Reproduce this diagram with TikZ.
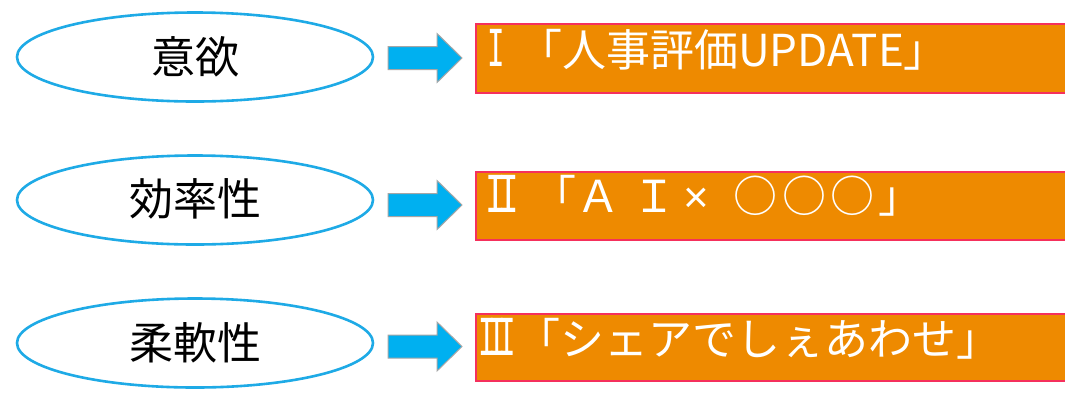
\documentclass[tikz,border=0pt]{standalone}
\usepackage{fontspec}
\usepackage{graphicx}
\newfontfamily\jp{Noto Sans CJK JP}
\newfontfamily\rom{DejaVu Sans Mono}
\newfontfamily\lat{Liberation Sans}
\usetikzlibrary{shapes.geometric}
\definecolor{ellblue}{HTML}{1EAAE6}
\definecolor{arrblue}{HTML}{00B0F0}
\definecolor{arrgray}{HTML}{A6A6A6}
\definecolor{boxorange}{HTML}{EE8A00}
\definecolor{boxborder}{HTML}{F5305C}
\newcommand{\romI}{{\rom\fontsize{51}{55}\selectfont\scalebox{0.57}[1]{I}}}
\newcommand{\romII}{{\rom\fontsize{51}{55}\selectfont\scalebox{0.67}[1]{I\kern-11pt I}}}
\newcommand{\romIII}{{\rom\fontsize{51}{55}\selectfont\scalebox{0.57}[1]{I\kern-13pt I\kern-13pt I}}}
\tikzset{
  oval/.style={ellipse, draw=ellblue, line width=2.6pt, fill=white,
    minimum width=356pt, minimum height=89pt, inner sep=0pt,
    font=\jp\fontsize{44}{50}\selectfont, text=black},
  bar/.style={draw=boxborder, line width=1.5pt, fill=boxorange},
  bartext/.style={anchor=base west, inner sep=0pt, text=white,
    font=\jp\fontsize{44}{50}\selectfont},
  blockarrow/.style={fill=arrblue, draw=arrgray, line width=1pt, line join=miter}
}
\begin{document}
\begin{tikzpicture}[x=1pt,y=-1pt]
\clip (0,0) rectangle (1065,392);
\fill[white] (0,0) rectangle (1065,392);
% rows
\foreach \n/\ey/\ay/\bt/\bb/\ty/\lab/\txt in {
  a/57/58/23/92/66/意欲/{\makebox[32pt][l]{\hspace{1pt}\romI}「人事評価UPDATE」},
  b/200/205/171/239/212/効率性/{\makebox[46pt][l]{\hspace{-1pt}\romII}「Ａ\hspace{12pt}Ｉ\hspace{7pt}{\lat ×}\hspace{25pt}○\hspace{4.5pt}○\hspace{4.5pt}○\hspace{4pt}」},
  c/343/346.5/313/380/355/柔軟性/{\makebox[30pt][l]{\hspace{-8pt}\romIII}「シェアでしぇあわせ」}}{
  \node[oval] (e\n) at (195,\ey) {\raisebox{5pt}{\lab}};
  \coordinate (s\n) at (388,\ay);
  \draw[blockarrow] ([yshift=11.5pt]s\n) -- ++(49,0) -- ++(0,-13) -- ++(25,24.5)
     -- ++(-25,24.5) -- ++(0,-13) -- ++(-49,0) -- cycle;
  \node[bar, anchor=north west, minimum width=600pt, minimum height={\bb-\bt},
    inner sep=0pt] (b\n) at (475,\bt) {};
  \node[bartext] (t\n) at (486,\ty) {\txt};
}
\end{tikzpicture}
\end{document}
